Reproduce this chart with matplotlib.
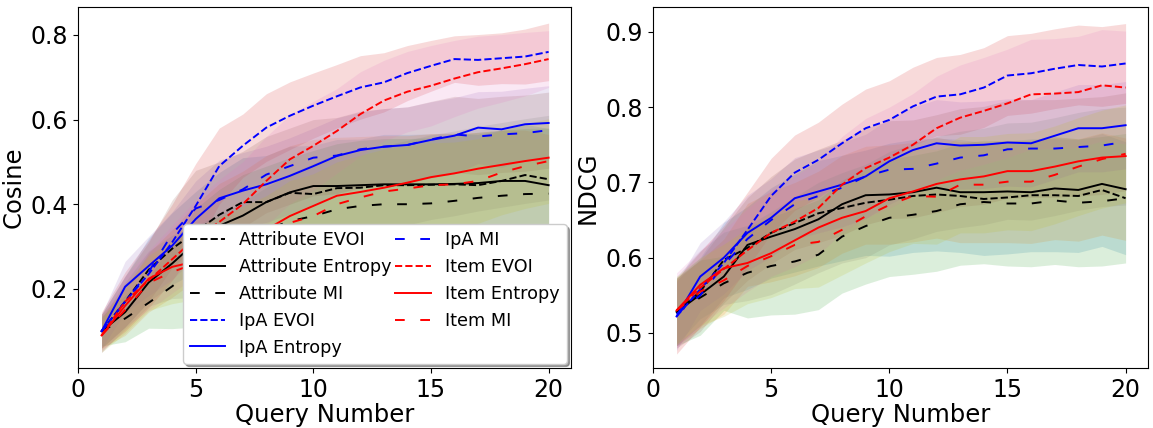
import numpy as np
import matplotlib.pyplot as plt

queries = list(range(1, 21))

labels = ['Attribute EVOI', 'Attribute Entropy', 'Attribute MI',
          'IpA EVOI', 'IpA Entropy', 'IpA MI',
          'Item EVOI', 'Item Entropy', 'Item MI']

# cosine similarity, mean per query
cos_att_evoi = [0.10, 0.17, 0.245, 0.295, 0.335, 0.375, 0.405, 0.405, 0.427, 0.424, 0.438, 0.439, 0.445, 0.445, 0.446, 0.447, 0.445, 0.455, 0.469, 0.459]
cos_att_ent = [0.10, 0.145, 0.215, 0.26, 0.31, 0.349, 0.373, 0.405, 0.428, 0.443, 0.443, 0.445, 0.447, 0.447, 0.447, 0.448, 0.45, 0.455, 0.455, 0.445]
cos_att_mi = [0.10, 0.13, 0.167, 0.206, 0.25, 0.29, 0.32, 0.34, 0.36, 0.372, 0.388, 0.396, 0.40, 0.40, 0.402, 0.408, 0.415, 0.42, 0.424, 0.425]
cos_ipa_evoi = [0.10, 0.17, 0.235, 0.31, 0.396, 0.49, 0.538, 0.581, 0.609, 0.633, 0.655, 0.676, 0.688, 0.71, 0.727, 0.743, 0.741, 0.745, 0.749, 0.76]
cos_ipa_ent = [0.10, 0.205, 0.254, 0.302, 0.365, 0.414, 0.432, 0.447, 0.467, 0.49, 0.514, 0.528, 0.536, 0.54, 0.552, 0.562, 0.581, 0.577, 0.589, 0.592]
cos_ipa_mi = [0.10, 0.17, 0.24, 0.33, 0.39, 0.41, 0.435, 0.47, 0.49, 0.51, 0.515, 0.53, 0.536, 0.54, 0.553, 0.565, 0.56, 0.565, 0.568, 0.575]
cos_item_evoi = [0.09, 0.17, 0.22, 0.27, 0.32, 0.358, 0.40, 0.455, 0.506, 0.538, 0.573, 0.613, 0.645, 0.666, 0.68, 0.697, 0.712, 0.721, 0.731, 0.743]
cos_item_ent = [0.09, 0.16, 0.224, 0.252, 0.265, 0.285, 0.31, 0.34, 0.372, 0.396, 0.42, 0.429, 0.439, 0.451, 0.464, 0.473, 0.484, 0.493, 0.502, 0.51]
cos_item_mi = [0.09, 0.15, 0.214, 0.24, 0.26, 0.28, 0.30, 0.32, 0.356, 0.372, 0.40, 0.416, 0.43, 0.437, 0.445, 0.447, 0.455, 0.475, 0.49, 0.502]

# cosine similarity, std per query
cos_att_evoi_sd = [0.04, 0.06, 0.075, 0.085, 0.095, 0.10, 0.105, 0.11, 0.11, 0.115, 0.115, 0.115, 0.12, 0.12, 0.12, 0.12, 0.12, 0.12, 0.12, 0.12]
cos_att_ent_sd = [0.04, 0.055, 0.07, 0.08, 0.09, 0.10, 0.105, 0.11, 0.11, 0.11, 0.115, 0.115, 0.115, 0.115, 0.12, 0.12, 0.12, 0.12, 0.12, 0.12]
cos_att_mi_sd = [0.035, 0.055, 0.06, 0.10, 0.14, 0.145, 0.15, 0.15, 0.15, 0.155, 0.155, 0.155, 0.155, 0.155, 0.155, 0.155, 0.155, 0.155, 0.155, 0.155]
cos_ipa_evoi_sd = [0.045, 0.07, 0.08, 0.09, 0.10, 0.09, 0.075, 0.08, 0.08, 0.077, 0.075, 0.075, 0.07, 0.065, 0.06, 0.055, 0.06, 0.06, 0.065, 0.068]
cos_ipa_ent_sd = [0.04, 0.06, 0.07, 0.08, 0.09, 0.09, 0.09, 0.09, 0.09, 0.09, 0.09, 0.09, 0.09, 0.09, 0.09, 0.09, 0.085, 0.09, 0.085, 0.088]
cos_ipa_mi_sd = [0.04, 0.06, 0.07, 0.08, 0.09, 0.09, 0.09, 0.09, 0.09, 0.09, 0.09, 0.09, 0.09, 0.09, 0.09, 0.09, 0.09, 0.09, 0.09, 0.09]
cos_item_evoi_sd = [0.04, 0.06, 0.07, 0.08, 0.09, 0.10, 0.10, 0.105, 0.105, 0.105, 0.10, 0.10, 0.095, 0.095, 0.095, 0.09, 0.085, 0.08, 0.075, 0.067]
cos_item_ent_sd = [0.04, 0.055, 0.065, 0.075, 0.085, 0.09, 0.095, 0.10, 0.10, 0.10, 0.10, 0.10, 0.10, 0.10, 0.10, 0.10, 0.10, 0.10, 0.10, 0.10]
cos_item_mi_sd = [0.04, 0.055, 0.065, 0.075, 0.085, 0.09, 0.095, 0.10, 0.10, 0.10, 0.10, 0.10, 0.10, 0.10, 0.10, 0.10, 0.10, 0.10, 0.10, 0.10]

# NDCG, mean per query
ndcg_att_evoi = [0.528, 0.555, 0.597, 0.613, 0.633, 0.646, 0.659, 0.666, 0.673, 0.677, 0.682, 0.684, 0.682, 0.678, 0.68, 0.683, 0.683, 0.682, 0.69, 0.679]
ndcg_att_ent = [0.528, 0.551, 0.575, 0.617, 0.628, 0.638, 0.651, 0.671, 0.683, 0.684, 0.687, 0.693, 0.687, 0.687, 0.688, 0.687, 0.692, 0.69, 0.698, 0.691]
ndcg_att_mi = [0.528, 0.547, 0.566, 0.58, 0.589, 0.595, 0.604, 0.628, 0.642, 0.653, 0.657, 0.662, 0.671, 0.674, 0.672, 0.672, 0.676, 0.673, 0.675, 0.679]
ndcg_ipa_evoi = [0.522, 0.558, 0.593, 0.637, 0.682, 0.713, 0.73, 0.752, 0.772, 0.783, 0.801, 0.814, 0.817, 0.826, 0.842, 0.845, 0.851, 0.856, 0.854, 0.858]
ndcg_ipa_ent = [0.522, 0.575, 0.60, 0.633, 0.653, 0.679, 0.688, 0.697, 0.708, 0.728, 0.743, 0.752, 0.749, 0.75, 0.753, 0.752, 0.762, 0.772, 0.772, 0.776]
ndcg_ipa_mi = [0.525, 0.55, 0.59, 0.625, 0.65, 0.671, 0.682, 0.693, 0.708, 0.717, 0.718, 0.725, 0.733, 0.736, 0.744, 0.745, 0.745, 0.747, 0.749, 0.754]
ndcg_item_evoi = [0.53, 0.56, 0.585, 0.61, 0.633, 0.648, 0.666, 0.697, 0.719, 0.733, 0.75, 0.772, 0.786, 0.795, 0.805, 0.817, 0.818, 0.82, 0.829, 0.826]
ndcg_item_ent = [0.53, 0.564, 0.586, 0.593, 0.606, 0.623, 0.64, 0.653, 0.662, 0.679, 0.688, 0.698, 0.704, 0.708, 0.715, 0.715, 0.721, 0.728, 0.733, 0.735]
ndcg_item_mi = [0.53, 0.555, 0.57, 0.589, 0.602, 0.617, 0.621, 0.637, 0.655, 0.67, 0.682, 0.681, 0.697, 0.697, 0.701, 0.701, 0.71, 0.721, 0.731, 0.738]

# NDCG, std per query
ndcg_att_evoi_sd = [0.045, 0.045, 0.05, 0.055, 0.06, 0.065, 0.07, 0.07, 0.07, 0.075, 0.075, 0.075, 0.075, 0.075, 0.075, 0.075, 0.075, 0.075, 0.075, 0.075]
ndcg_att_ent_sd = [0.045, 0.045, 0.05, 0.055, 0.06, 0.062, 0.064, 0.065, 0.065, 0.066, 0.066, 0.067, 0.067, 0.067, 0.068, 0.068, 0.068, 0.068, 0.068, 0.068]
ndcg_att_mi_sd = [0.045, 0.05, 0.036, 0.06, 0.065, 0.07, 0.073, 0.075, 0.077, 0.078, 0.079, 0.08, 0.081, 0.082, 0.083, 0.084, 0.085, 0.085, 0.086, 0.086]
ndcg_ipa_evoi_sd = [0.05, 0.05, 0.05, 0.05, 0.05, 0.05, 0.05, 0.052, 0.052, 0.052, 0.052, 0.052, 0.053, 0.053, 0.053, 0.053, 0.053, 0.053, 0.053, 0.053]
ndcg_ipa_ent_sd = [0.045, 0.045, 0.048, 0.05, 0.052, 0.054, 0.055, 0.056, 0.056, 0.057, 0.057, 0.058, 0.058, 0.058, 0.058, 0.058, 0.058, 0.058, 0.058, 0.058]
ndcg_ipa_mi_sd = [0.045, 0.048, 0.05, 0.055, 0.058, 0.06, 0.062, 0.063, 0.064, 0.065, 0.065, 0.065, 0.065, 0.065, 0.065, 0.065, 0.065, 0.065, 0.065, 0.065]
ndcg_item_evoi_sd = [0.05, 0.05, 0.052, 0.055, 0.058, 0.06, 0.062, 0.064, 0.066, 0.067, 0.068, 0.069, 0.07, 0.071, 0.072, 0.073, 0.073, 0.074, 0.074, 0.075]
ndcg_item_ent_sd = [0.045, 0.045, 0.048, 0.05, 0.055, 0.058, 0.06, 0.06, 0.062, 0.062, 0.063, 0.063, 0.064, 0.064, 0.064, 0.065, 0.065, 0.065, 0.065, 0.065]
ndcg_item_mi_sd = [0.045, 0.045, 0.048, 0.05, 0.055, 0.058, 0.06, 0.06, 0.062, 0.062, 0.063, 0.063, 0.064, 0.064, 0.064, 0.065, 0.065, 0.065, 0.065, 0.065]

cos_means = [cos_att_evoi, cos_att_ent, cos_att_mi, cos_ipa_evoi, cos_ipa_ent, cos_ipa_mi, cos_item_evoi, cos_item_ent, cos_item_mi]
cos_sds = [cos_att_evoi_sd, cos_att_ent_sd, cos_att_mi_sd, cos_ipa_evoi_sd, cos_ipa_ent_sd, cos_ipa_mi_sd, cos_item_evoi_sd, cos_item_ent_sd, cos_item_mi_sd]
ndcg_means = [ndcg_att_evoi, ndcg_att_ent, ndcg_att_mi, ndcg_ipa_evoi, ndcg_ipa_ent, ndcg_ipa_mi, ndcg_item_evoi, ndcg_item_ent, ndcg_item_mi]
ndcg_sds = [ndcg_att_evoi_sd, ndcg_att_ent_sd, ndcg_att_mi_sd, ndcg_ipa_evoi_sd, ndcg_ipa_ent_sd, ndcg_ipa_mi_sd, ndcg_item_evoi_sd, ndcg_item_ent_sd, ndcg_item_mi_sd]

line_colors = ['k', 'k', 'k', 'b', 'b', 'b', 'r', 'r', 'r']
line_styles = ['--', '-', (0, (5, 8)), '--', '-', (0, (5, 8)), '--', '-', (0, (5, 8))]
band_colors = ['C0', 'C1', 'C2', 'C3', 'C4', 'C5', 'C6', 'C7', 'C8']

fig = plt.figure(figsize=(11.53, 4.28), dpi=100)
ax1 = fig.add_axes([0.0677, 0.1402, 0.4275, 0.8434])
ax2 = fig.add_axes([0.5663, 0.1402, 0.4294, 0.8434])

x = np.array(queries)
for ax, means, sds, ylabel, ylim in [(ax1, cos_means, cos_sds, 'Cosine', (0.013, 0.866)),
                                     (ax2, ndcg_means, ndcg_sds, 'NDCG', (0.4535, 0.933))]:
    for i in range(len(labels)):
        m = np.array(means[i])
        s = np.array(sds[i])
        ax.plot(x, m, color=line_colors[i], linestyle=line_styles[i], lw=1.4, label=labels[i])
        ax.fill_between(x, m - s, m + s, color=band_colors[i], alpha=0.17, lw=0)
    ax.set_xlim(0, 20.95)
    ax.set_ylim(*ylim)
    ax.set_xticks([0, 5, 10, 15, 20])
    ax.set_xlabel('Query Number', fontsize=17.5, labelpad=1)
    ax.set_ylabel(ylabel, fontsize=17.5)
    ax.tick_params(labelsize=17)

ax1.legend(ncol=2, loc='lower right', fontsize=12.7, borderaxespad=0.25,
           columnspacing=0.2, labelspacing=0.5, shadow=True, framealpha=1)

fig.savefig('out.png', dpi=100)
